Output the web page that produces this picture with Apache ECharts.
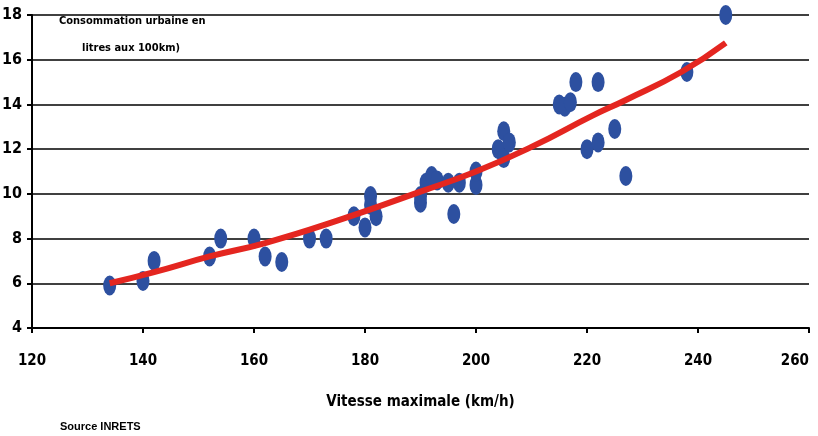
<!DOCTYPE html>
<html>
<head>
<meta charset="utf-8">
<script src="https://cdn.jsdelivr.net/npm/echarts@6/dist/echarts.min.js"></script>
<style>
  html, body { margin: 0; padding: 0; background: #fff; }
  #chart { width: 818px; height: 436px; }
</style>
</head>
<body>
<div id="chart"></div>
<script>
// vitesse maximale (km/h) / consommation urbaine (l/100km)
const speeds = [134, 140, 142, 152, 154, 160, 162, 165, 170, 173, 178, 180, 181, 181, 182,
  190, 190, 191, 192, 193, 195, 196, 197, 200, 200, 204, 205, 205, 206, 215, 216, 217, 218,
  220, 222, 222, 225, 227, 238, 245]
const consumption = [5.9, 6.1, 7.0, 7.2, 8.0, 8.0, 7.2, 6.95, 8.0, 8.0, 9.0, 8.5, 9.9, 9.5, 9.0,
  9.6, 9.9, 10.5, 10.8, 10.6, 10.5, 9.1, 10.5, 10.4, 11.0, 12.0, 12.8, 11.6, 12.3, 14.0, 13.9, 14.1, 15.0,
  12.0, 15.0, 12.3, 12.9, 10.8, 15.45, 18.0]

// courbe de tendance
const trendX = [134, 142, 152, 162, 175, 190, 200, 210, 221, 227, 237, 245]
const trendY = [6.0, 6.5, 7.2, 7.8, 8.8, 10.1, 11.0, 12.1, 13.5, 14.2, 15.45, 16.75]

const xTicks = [120, 260, 20]
const yTicks = [4, 18, 2]

const narrow = "'DejaVu Sans Condensed', 'Liberation Sans Narrow', sans-serif"

const myChart = echarts.init(document.getElementById('chart'))

const options = {
  animation: false,
  grid: { left: 32, right: 9, top: 15, bottom: 108, outerBoundsMode: 'none', containLabel: false },
  xAxis: {
    type: 'value',
    min: xTicks[0],
    max: xTicks[1],
    interval: xTicks[2],
    name: 'Vitesse maximale (km/h)',
    nameLocation: 'middle',
    nameGap: 67,
    nameTextStyle: { color: '#000', fontFamily: narrow, fontWeight: 'bold', fontSize: 15 },
    axisLine: { show: true, lineStyle: { color: '#000', width: 2 } },
    axisTick: { show: true, length: 5, lineStyle: { color: '#000', width: 2 } },
    axisLabel: {
      color: '#000', fontFamily: narrow, fontWeight: 'bold', fontSize: 15, margin: 26,
      alignMaxLabel: 'right',
    },
    splitLine: { show: false },
  },
  yAxis: {
    type: 'value',
    min: yTicks[0],
    max: yTicks[1],
    interval: yTicks[2],
    axisLine: { show: true, lineStyle: { color: '#000', width: 2 } },
    axisTick: { show: true, length: 5, lineStyle: { color: '#000', width: 2 } },
    axisLabel: { color: '#000', fontFamily: narrow, fontWeight: 'bold', fontSize: 16, margin: 10 },
    splitLine: { show: true, lineStyle: { color: '#000', width: 1.5 } },
  },
  graphic: [
    {
      type: 'text', left: 59, top: 16,
      style: { text: 'Consommation urbaine en', fill: '#000', font: 'bold 11px ' + narrow },
    },
    {
      type: 'text', left: 82, top: 43,
      style: { text: 'litres aux 100km)', fill: '#000', font: 'bold 11px ' + narrow },
    },
    {
      type: 'text', left: 60, top: 421,
      style: { text: 'Source INRETS', fill: '#000', font: 'bold 11px Arial, "Liberation Sans", sans-serif' },
    },
  ],
  series: [
    {
      type: 'line',
      data: trendX.map((x, i) => [x, trendY[i]]),
      smooth: true,
      showSymbol: false,
      lineStyle: { color: '#e42620', width: 6 },
      z: 3,
    },
    {
      type: 'scatter',
      data: speeds.map((x, i) => [x, consumption[i]]),
      symbol: 'circle',
      symbolSize: [13, 20],
      itemStyle: { color: '#2d50a0', opacity: 1 },
      z: 2,
    },
  ],
}

myChart.setOption(options)
</script>
</body>
</html>
